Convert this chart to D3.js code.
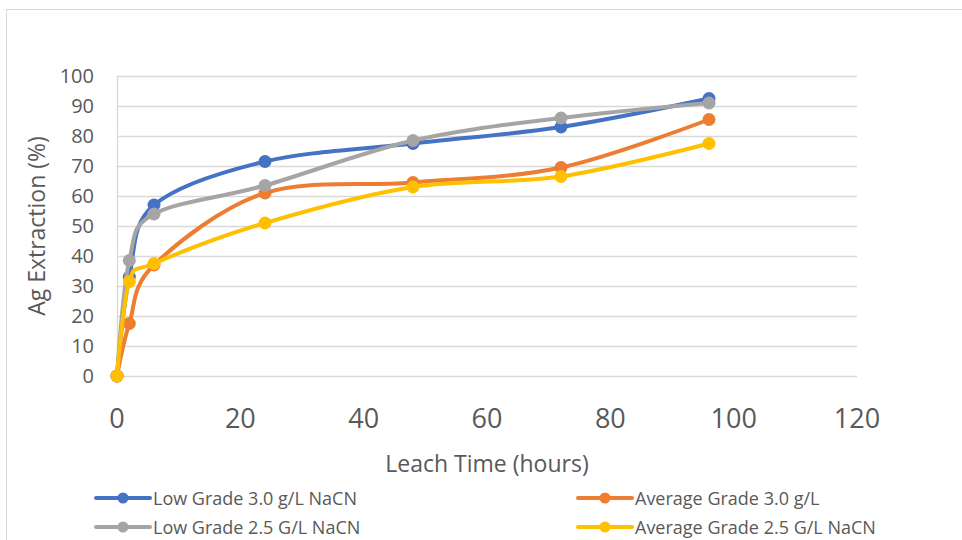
<!DOCTYPE html>
<html><head><meta charset="utf-8">
<script src="https://cdn.jsdelivr.net/npm/d3@7"></script>
<style>body{margin:0;background:#fff}svg{display:block;font-family:"Open Sans",sans-serif}</style>
</head><body><svg id="c" width="962" height="540"></svg>
<script>
const hours = [0, 2, 6, 24, 48, 72, 96];
const lowGrade30 = [0, 33, 57, 71.5, 77.5, 83, 92.5];
const avgGrade30 = [0, 17.5, 37, 61, 64.5, 69.5, 85.5];
const lowGrade25 = [0, 38.5, 54, 63.5, 78.5, 86, 91];
const avgGrade25 = [0, 31.5, 37.5, 51, 63, 66.5, 77.5];
const seriesNames = ["Low Grade 3.0 g/L NaCN", "Average Grade 3.0 g/L", "Low Grade 2.5 G/L NaCN", "Average Grade 2.5 G/L NaCN"];
const seriesColors = ["#4472C4", "#ED7D31", "#A5A5A5", "#FFC000"];
const xTicks = [0, 20, 40, 60, 80, 100, 120];
const yTicks = [0, 10, 20, 30, 40, 50, 60, 70, 80, 90, 100];

const series = [lowGrade30, avgGrade30, lowGrade25, avgGrade25].map((v, i) => ({name: seriesNames[i], color: seriesColors[i], values: v}));
const svg = d3.select("#c");
const x = d3.scaleLinear().domain([0, 120]).range([117, 857]);
const y = d3.scaleLinear().domain([0, 100]).range([376, 76]);

svg.append("rect").attr("x", 6.5).attr("y", 9.5).attr("width", 1000).attr("height", 600).attr("fill", "none").attr("stroke", "#d9d9d9");

svg.append("g").selectAll("line").data(yTicks).join("line")
  .attr("x1", x(0)).attr("x2", x(120)).attr("y1", d => Math.round(y(d)) + 0.5).attr("y2", d => Math.round(y(d)) + 0.5)
  .attr("stroke", "#d9d9d9").attr("stroke-width", 1.3);
svg.append("line").attr("x1", x(0) + 0.5).attr("x2", x(0) + 0.5).attr("y1", y(100)).attr("y2", y(0)).attr("stroke", "#d9d9d9").attr("stroke-width", 1.3);

svg.append("g").selectAll("text").data(yTicks).join("text")
  .attr("x", 94).attr("y", d => y(d) + 7).attr("text-anchor", "end")
  .attr("font-size", 20).attr("fill", "#595959").text(d => d);
svg.append("g").selectAll("text").data(xTicks).join("text")
  .attr("x", d => x(d)).attr("y", 428).attr("text-anchor", "middle")
  .attr("font-size", 27).attr("fill", "#595959").text(d => d);

svg.append("text").attr("x", 487).attr("y", 472).attr("text-anchor", "middle")
  .attr("font-size", 23).attr("fill", "#595959").text("Leach Time (hours)");
svg.append("text").attr("transform", "translate(45,226) rotate(-90)").attr("text-anchor", "middle")
  .attr("font-size", 23).attr("fill", "#595959").text("Ag Extraction (%)");

const line = d3.line().x((d, i) => x(hours[i])).y(d => y(d)).curve(d3.curveCardinal.tension(0));
const g = svg.append("g");
series.forEach(s => {
  g.append("path").attr("d", line(s.values)).attr("fill", "none").attr("stroke", s.color).attr("stroke-width", 4).attr("stroke-linecap", "round");
  g.append("g").selectAll("circle").data(s.values).join("circle")
    .attr("cx", (d, i) => x(hours[i])).attr("cy", d => y(d)).attr("r", 6.5).attr("fill", s.color);
});

const legendPos = [[96, 498], [578, 498], [96, 527], [578, 527]];
series.forEach((s, i) => {
  const [lx, ly] = legendPos[i];
  const lg = svg.append("g");
  lg.append("line").attr("x1", lx).attr("x2", lx + 54).attr("y1", ly).attr("y2", ly).attr("stroke", s.color).attr("stroke-width", 4).attr("stroke-linecap", "round");
  lg.append("circle").attr("cx", lx + 27).attr("cy", ly).attr("r", 5.5).attr("fill", s.color);
  lg.append("text").attr("x", lx + 57).attr("y", ly + 7).attr("font-size", 18).attr("fill", "#595959").text(s.name);
});
</script></body></html>
